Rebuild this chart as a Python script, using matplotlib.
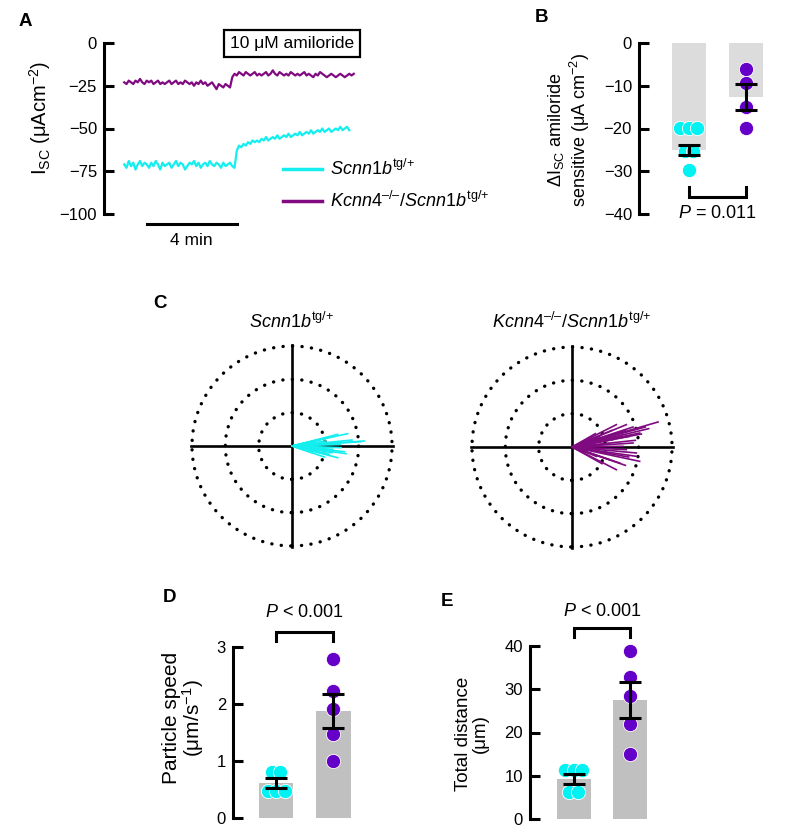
#!/usr/bin/env python3
# -*- coding: utf-8 -*-
"""
Figure: Isc traces, amiloride-sensitive Isc, particle tracks, particle speed and distance.
Run: python plot.py  ->  out.png
"""

import numpy as np
import matplotlib.pyplot as plt
from matplotlib.patches import Circle
from matplotlib.lines import Line2D

# --- 1. fonts ---
plt.rcParams['font.family'] = ['Liberation Sans', 'DejaVu Sans']
plt.rcParams['mathtext.fontset'] = 'custom'
plt.rcParams['mathtext.rm'] = 'Liberation Sans'
plt.rcParams['mathtext.it'] = 'Liberation Sans:italic'
plt.rcParams['mathtext.bf'] = 'Liberation Sans:bold'

# --- 2. data ---
CYAN_LINE = '#14eeee'
PURPLE_LINE = '#800a80'
CYAN_DOT = '#00f2f2'
PURPLE_DOT = '#6500c8'

LABEL_WT = r'$\mathit{Scnn1b}^{\mathrm{tg/{+}}}$'
LABEL_KO = '$\\mathit{Kcnn4}^{\\mathrm{\u2013/\u2013}}\\mathit{/Scnn1b}^{\\mathrm{tg/{+}}}$'

# A: Isc traces (uA/cm2), one sample per 0.1 min
isc_wt_before = [-71, -73, -69, -72, -70, -74, -71, -69, -72, -70,
                 -71, -73, -70, -72, -69, -71, -74, -70, -72, -71,
                 -70, -73, -71, -69, -72, -70, -71, -74, -72, -70,
                 -71, -69, -72, -70, -73, -71, -70, -72, -69, -71,
                 -72, -70, -71, -73, -70, -72, -71, -70, -72, -73]
isc_wt_after = [-63, -60, -61, -59, -60, -58, -59, -57, -58, -57,
                -58, -56, -57, -55, -57, -56, -55, -56, -54, -56,
                -55, -54, -55, -53, -55, -54, -53, -54, -52, -54,
                -53, -52, -53, -51, -53, -52, -51, -52, -50, -52,
                -51, -50, -52, -51, -50, -51, -49, -51, -50, -49, -51]
isc_ko_before = [-23, -24, -22, -23, -24, -22, -23, -21, -23, -24,
                 -22, -23, -22, -24, -23, -22, -24, -23, -24, -23,
                 -22, -24, -23, -22, -24, -23, -24, -22, -23, -24,
                 -23, -25, -23, -24, -22, -24, -23, -25, -24, -23,
                 -25, -27, -24, -25, -26, -24, -25, -26]
isc_ko_after = [-20, -18, -19, -17, -18, -19, -17, -18, -19, -18,
                -17, -19, -18, -19, -18, -17, -19, -18, -16, -18,
                -19, -17, -18, -19, -18, -19, -17, -18, -19, -18,
                -19, -18, -17, -19, -18, -19, -20, -18, -19, -17,
                -18, -19, -20, -19, -18, -19, -20, -19, -18, -19,
                -20, -19, -18, -19, -18]
SAMPLE_MIN = 0.1

# B: amiloride-sensitive Isc
b_mean = [-25.0, -12.6]
b_sem = [1.25, 3.0]
b_wt = [-19.8, -19.8, -19.8, -25.2, -25.2, -29.7]
b_ko = [-6.1, -9.4, -14.9, -19.9]

# C: particle track end points (x, y), outer ring = 3
track_wt_x = [1.67, 2.17, 2.07, 1.62, 1.57, 1.37, 1.07, 0.97, 1.27,
              1.47, 1.12, 0.77, 0.87, 1.37, 0.67, 0.57, 1.22, 0.97,
              0.30, 0.45, 0.55, 0.80, 0.90, 1.20, 1.00, 0.60, 1.45, 1.80]
track_wt_y = [0.37, 0.15, 0.13, -0.23, -0.17, -0.35, 0.25, -0.05, 0.10,
              -0.05, -0.25, -0.15, 0.20, 0.35, 0.05, -0.10, -0.10, -0.33,
              0.05, -0.08, 0.12, -0.05, 0.08, -0.20, 0.15, -0.20, 0.05, 0.18]
track_ko_x = [2.58, 2.08, 2.03, 1.63, 1.33, 1.83, 2.03, 1.93, 1.33, 1.83, 1.43,
              1.93, 1.53, 1.13, 0.83, 1.63, 1.23, 1.73, 1.03, 0.73, 1.43, 0.63,
              1.00, 1.20, 0.90, 1.60, 2.20, 1.70, 1.50, 1.10, 0.70, 1.90, 2.30, 1.60]
track_ko_y = [0.75, 0.39, 0.42, 0.67, 0.67, 0.60, -0.43, -0.18, -0.68, 0.12, -0.48,
              -0.28, 0.02, -0.38, 0.32, -0.08, 0.22, 0.32, -0.18, -0.28, 0.42, 0.17,
              0.30, 0.50, -0.50, 0.50, 0.60, -0.30, 0.35, 0.10, 0.40, 0.20, 0.55, -0.55]

# D: particle speed (um/s)
d_mean = [0.61, 1.88]
d_sem = [0.09, 0.30]
d_wt = [0.81, 0.81, 0.47, 0.47, 0.47]
d_ko = [2.79, 2.23, 1.91, 1.47, 1.0]

# E: total distance (um)
e_mean = [9.3, 27.5]
e_sem = [1.2, 4.15]
e_wt = [11.3, 11.3, 11.3, 6.3, 6.3]
e_ko = [38.9, 32.9, 28.5, 22.0, 15.0]

# --- 3. helpers ---
W, H = 793, 835
fig = plt.figure(figsize=(W / 100, H / 100), dpi=100)


def add_ax(left, top, right, bottom):
    """axes from pixel box (origin top-left)"""
    return fig.add_axes([left / W, 1 - bottom / H, (right - left) / W, (bottom - top) / H])


def fxy(px, py):
    return px / W, 1 - py / H


def style_left_axis(ax):
    for s in ('top', 'right', 'bottom'):
        ax.spines[s].set_visible(False)
    ax.spines['left'].set_linewidth(2.2)
    ax.set_xticks([])
    ax.tick_params(axis='y', direction='in', length=7, width=2.2, labelsize=12, pad=5)


def swarm_x(center, values, step):
    """spread equal values side by side"""
    xs = []
    for i, v in enumerate(values):
        same = [j for j, w in enumerate(values) if w == v]
        k = same.index(i)
        xs.append(center + (k - (len(same) - 1) / 2) * step)
    return xs


def dot_bar(ax, means, sems, groups, bar_color):
    for i, (m, s, vals, col) in enumerate(zip(means, sems, groups, (CYAN_DOT, PURPLE_DOT))):
        x = i + 1
        ax.bar(x, m, width=0.6, color=bar_color, zorder=1)
        ax.scatter(swarm_x(x, vals, 0.15), vals, s=105, c=col,
                   edgecolors='white', linewidths=0.6, zorder=2, clip_on=False)
        ax.errorbar(x, m, yerr=s, fmt='none', ecolor='black', elinewidth=2.2,
                    capsize=8, capthick=2.2, zorder=3, clip_on=False)


def bracket(ax, y_bar, y_leg, y_text, text):
    ax.plot([1, 1, 2, 2], [y_leg, y_bar, y_bar, y_leg], color='black', lw=2.2,
            clip_on=False, solid_joinstyle='miter')
    ax.text(1.5, y_text, text, ha='center', va='center', fontsize=13)


def ylabel_at(px, py, text, size, spacing):
    x, y = fxy(px, py)
    fig.text(x, y, text, rotation=90, ha='center', va='center', fontsize=size,
             linespacing=spacing, multialignment='center')


def panel_letter(px, py, letter):
    x, y = fxy(px, py)
    fig.text(x, y, letter, fontsize=13.5, fontweight='bold', ha='center', va='center')


# --- 4. panel A ---
axA = add_ax(104, 43, 370, 214)
style_left_axis(axA)
axA.set_ylim(-100, 0)
axA.set_xlim(-0.9, 10.92)
axA.set_yticks([0, -25, -50, -75, -100])

isc_wt = isc_wt_before + isc_wt_after
isc_ko = isc_ko_before + isc_ko_after
axA.plot(np.arange(len(isc_ko)) * SAMPLE_MIN, isc_ko, color=PURPLE_LINE, lw=1.6)
axA.plot(np.arange(len(isc_wt)) * SAMPLE_MIN, isc_wt, color=CYAN_LINE, lw=1.6)

# scale bar 4 min
axA.plot([1.0, 5.0], [-105.8, -105.8], color='black', lw=2.2, clip_on=False)
axA.text(3.0, -115.5, '4 min', ha='center', va='center', fontsize=12.5)

bx, by = fxy(292, 43.5)
fig.text(bx, by, '10 \u03bcM amiloride', ha='center', va='center', fontsize=12.5,
         bbox=dict(boxstyle='square,pad=0.35', fc='white', ec='black', lw=1.6))

ylabel_at(40, 118, 'I$_{\\rm SC}$ (\u03bcAcm$^{-2}$)', 14.5, 1.0)

# legend drawn by hand
for py, col, lab in ((169, CYAN_LINE, LABEL_WT), (201, PURPLE_LINE, LABEL_KO)):
    x1, y1 = fxy(283, py)
    x2, _ = fxy(322, py)
    fig.add_artist(Line2D([x1, x2], [y1, y1], color=col, lw=2.5, transform=fig.transFigure))
    tx, _ = fxy(330, py)
    fig.text(tx, y1, lab, ha='left', va='center', fontsize=13)

# --- 5. panel B ---
axB = add_ax(639, 43, 780, 214)
style_left_axis(axB)
axB.set_ylim(-40, 0)
axB.set_xlim(0.123, 2.6)
axB.set_yticks([0, -10, -20, -30, -40])
dot_bar(axB, b_mean, b_sem, [b_wt, b_ko], '#dcdcdc')
bracket(axB, -36.0, -33.7, -39.8, r'$\mathit{P}$ = 0.011')

ylabel_at(569, 130, '\u0394I$_{\\rm SC}$ amiloride\nsensitive (\u03bcA cm$^{-2}$)', 13, 1.15)

# --- 6. panel C ---
def polar_panel(cx, cy, xs, ys, color, title):
    r = 105
    ax = add_ax(cx - r, cy - r, cx + r, cy + r)
    ax.set_xlim(-3.15, 3.15)
    ax.set_ylim(-3.15, 3.15)
    ax.axis('off')
    for rr in (1, 2, 3):
        ax.add_patch(Circle((0, 0), rr, fill=False, ec='black', lw=2.4,
                            ls=(0, (0.05, 2.8)), capstyle='round'))
    ax.plot([-3.03, 3.03], [0, 0], color='black', lw=1.9)
    ax.plot([0, 0], [-3.03, 3.03], color='black', lw=1.9)
    for x, y in zip(xs, ys):
        ax.plot([0, x], [0, y], color=color, lw=1.2)
    tx, ty = fxy(cx, 322)
    fig.text(tx, ty, title, ha='center', va='center', fontsize=13)


polar_panel(292, 446, track_wt_x, track_wt_y, CYAN_LINE, LABEL_WT)
polar_panel(572, 447, track_ko_x, track_ko_y, PURPLE_LINE, LABEL_KO)

# --- 7. panel D ---
axD = add_ax(233, 647, 370, 818)
style_left_axis(axD)
axD.set_ylim(0, 3)
axD.set_xlim(0.246, 2.64)
axD.set_yticks([0, 1, 2, 3])
dot_bar(axD, d_mean, d_sem, [d_wt, d_ko], '#c0c0c0')
bracket(axD, 3.26, 3.10, 3.61, r'$\mathit{P}$ < 0.001')

ylabel_at(184, 718, 'Particle speed\n(\u03bcm/s$^{-1}$)', 15, 0.95)

# --- 8. panel E ---
axE = add_ax(530, 646, 670, 819)
style_left_axis(axE)
axE.set_ylim(0, 40)
axE.set_xlim(0.23, 2.7)
axE.set_yticks([0, 10, 20, 30, 40])
dot_bar(axE, e_mean, e_sem, [e_wt, e_ko], '#c0c0c0')
bracket(axE, 44.2, 42.1, 47.9, r'$\mathit{P}$ < 0.001')

ylabel_at(472, 734, 'Total distance\n(\u03bcm)', 13.5, 1.0)

# --- 9. panel letters ---
panel_letter(25, 21, 'A')
panel_letter(541, 18, 'B')
panel_letter(160, 303, 'C')
panel_letter(170, 597, 'D')
panel_letter(447, 601, 'E')

fig.savefig('out.png', dpi=100)
print('saved out.png')
